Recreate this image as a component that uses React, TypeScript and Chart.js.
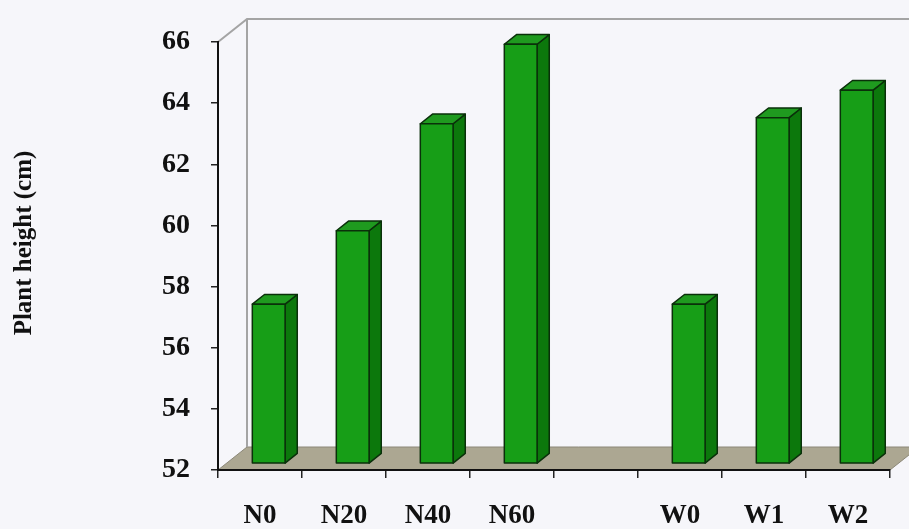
import { useEffect, useRef } from "react";
import { Chart, registerables } from "chart.js";

Chart.register(...registerables);

// Treatments (the empty slot separates the N and W groups)
const categories = ["N0", "N20", "N40", "N60", "", "W0", "W1", "W2"];
// Plant height, cm
const plantHeight: (number | null)[] = [57.2, 59.6, 63.1, 65.7, null, 57.2, 63.3, 64.2];
// Value axis
const yMin = 52;
const yMax = 66;
const yStep = 2;
const yTitle = "Plant height (cm)";

// Pseudo-3D depth of the plot box and of the bars inside it
const DEPTH_X = 29;
const DEPTH_Y = -23;
const BAR_FRONT = 0.3;
const BAR_DEPTH = 0.42;

const PAGE_BG = "#f6f6fa";
const FLOOR = "#aca792";
const WALL_LINE = "#a4a4a4";
const BAR_FRONT_COL = "#179e17";
const BAR_SIDE_COL = "#0c780c";
const BAR_TOP_COL = "#1f9a1f";
const BAR_EDGE = "#0a300a";
const INK = "#111111";
const SERIF = "'Liberation Serif', 'Times New Roman', serif";

const frame3d = {
  id: "frame3d",
  beforeDraw(chart: any) {
    const { ctx, chartArea: a, width, height } = chart;
    ctx.save();
    ctx.fillStyle = PAGE_BG;
    ctx.fillRect(0, 0, width, height);

    // floor
    ctx.beginPath();
    ctx.moveTo(a.left, a.bottom);
    ctx.lineTo(a.right, a.bottom);
    ctx.lineTo(a.right + DEPTH_X, a.bottom + DEPTH_Y);
    ctx.lineTo(a.left + DEPTH_X, a.bottom + DEPTH_Y);
    ctx.closePath();
    ctx.fillStyle = FLOOR;
    ctx.fill();
    ctx.strokeStyle = "#8c8878";
    ctx.lineWidth = 1;
    ctx.stroke();

    // side and back walls
    ctx.strokeStyle = WALL_LINE;
    ctx.lineWidth = 2;
    ctx.beginPath();
    ctx.moveTo(a.left, a.top);
    ctx.lineTo(a.left + DEPTH_X, a.top + DEPTH_Y);
    ctx.lineTo(a.right + DEPTH_X, a.top + DEPTH_Y);
    ctx.moveTo(a.left + DEPTH_X, a.top + DEPTH_Y);
    ctx.lineTo(a.left + DEPTH_X, a.bottom + DEPTH_Y);
    ctx.stroke();
    ctx.restore();
  },
  afterDatasetsDraw(chart: any) {
    const { ctx } = chart;
    const meta = chart.getDatasetMeta(0);
    const yScale = chart.scales.y;
    const basePx = yScale.getPixelForValue(yMin);
    const fx = DEPTH_X * BAR_FRONT;
    const fy = DEPTH_Y * BAR_FRONT;
    const dx = DEPTH_X * BAR_DEPTH;
    const dy = DEPTH_Y * BAR_DEPTH;
    ctx.save();
    ctx.lineJoin = "round";
    ctx.strokeStyle = BAR_EDGE;
    ctx.lineWidth = 1.5;
    meta.data.forEach((el: any, i: number) => {
      const v = plantHeight[i];
      if (v == null) return;
      const { x, width } = el.getProps(["x", "width"], true);
      const l = x - width / 2 + fx;
      const r = x + width / 2 + fx;
      const t = yScale.getPixelForValue(v) + fy;
      const b = basePx + fy;

      // side face
      ctx.beginPath();
      ctx.moveTo(r, t);
      ctx.lineTo(r + dx, t + dy);
      ctx.lineTo(r + dx, b + dy);
      ctx.lineTo(r, b);
      ctx.closePath();
      ctx.fillStyle = BAR_SIDE_COL;
      ctx.fill();
      ctx.stroke();

      // top face
      ctx.beginPath();
      ctx.moveTo(l, t);
      ctx.lineTo(r, t);
      ctx.lineTo(r + dx, t + dy);
      ctx.lineTo(l + dx, t + dy);
      ctx.closePath();
      ctx.fillStyle = BAR_TOP_COL;
      ctx.fill();
      ctx.stroke();

      // front face
      ctx.beginPath();
      ctx.rect(l, t, r - l, b - t);
      ctx.fillStyle = BAR_FRONT_COL;
      ctx.fill();
      ctx.stroke();
    });
    ctx.restore();
  },
  afterDraw(chart: any) {
    const { ctx } = chart;
    ctx.save();
    ctx.translate(25, 243);
    ctx.rotate(-Math.PI / 2);
    ctx.font = `bold 25px ${SERIF}`;
    ctx.fillStyle = INK;
    ctx.textAlign = "center";
    ctx.textBaseline = "middle";
    ctx.fillText(yTitle, 0, 0);
    ctx.restore();
  },
};

export default function App() {
  const canvasRef = useRef<HTMLCanvasElement | null>(null);

  useEffect(() => {
    document.body.style.margin = "0";
    const canvas = canvasRef.current;
    if (!canvas) return;
    const chart = new Chart(canvas, {
      type: "bar",
      data: {
        labels: categories,
        datasets: [
          {
            label: yTitle,
            data: plantHeight,
            backgroundColor: "rgba(0,0,0,0)",
            borderWidth: 0,
            barPercentage: 0.39,
            categoryPercentage: 1,
          },
        ],
      },
      options: {
        responsive: false,
        devicePixelRatio: 1,
        animation: false,
        events: [],
        layout: { padding: { top: 42, right: 19, left: 0, bottom: 0 } },
        plugins: {
          legend: { display: false },
          tooltip: { enabled: false },
        },
        scales: {
          x: {
            offset: true,
            grid: {
              display: true,
              offset: true,
              drawOnChartArea: false,
              drawTicks: true,
              tickLength: 8,
              color: "#222",
              lineWidth: 1.5,
            },
            border: { display: true, color: INK, width: 2 },
            ticks: {
              color: INK,
              padding: 22,
              maxRotation: 0,
              autoSkip: false,
              font: { family: SERIF, size: 27, weight: "bold" },
            },
            afterFit(scale: any) {
              scale.height = 59;
            },
          },
          y: {
            min: yMin,
            max: yMax,
            grid: {
              display: true,
              drawOnChartArea: false,
              drawTicks: true,
              tickLength: 7,
              color: "#222",
              lineWidth: 1.5,
            },
            border: { display: true, color: INK, width: 2 },
            ticks: {
              stepSize: yStep,
              color: INK,
              padding: 21,
              font: { family: SERIF, size: 28, weight: "bold" },
            },
            afterFit(scale: any) {
              scale.width = 218;
            },
          },
        },
      },
      plugins: [frame3d],
    });
    return () => chart.destroy();
  }, []);

  return (
    <div style={{ position: "fixed", left: 0, top: 0, width: 909, height: 529, background: PAGE_BG }}>
      <canvas ref={canvasRef} width={909} height={529} style={{ display: "block" }} />
    </div>
  );
}
